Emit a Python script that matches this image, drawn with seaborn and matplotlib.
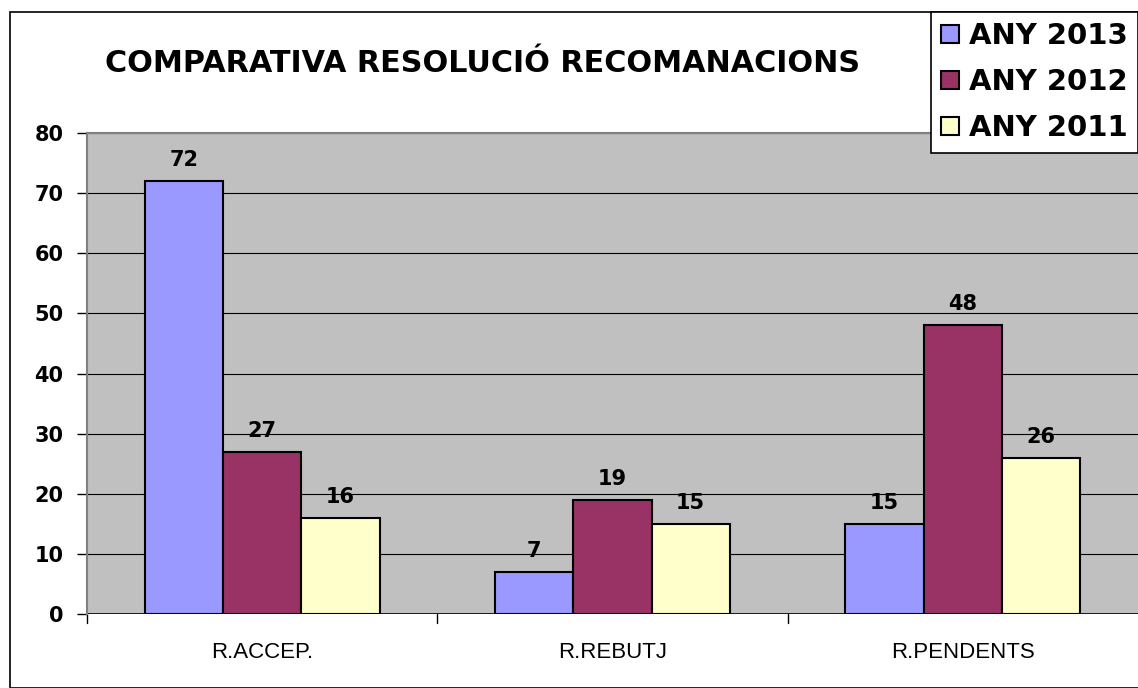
import matplotlib
matplotlib.use("Agg")
import matplotlib.pyplot as plt
import seaborn as sns
import pandas as pd
from matplotlib.patches import Rectangle

categories = ["R.ACCEP.", "R.REBUTJ", "R.PENDENTS"]
series = ["ANY 2013", "ANY 2012", "ANY 2011"]
v2013 = [72, 7, 15]
v2012 = [27, 19, 48]
v2011 = [16, 15, 26]
colors = ["#9999FF", "#993366", "#FFFFCC"]

rows = []
for s, vals in zip(series, [v2013, v2012, v2011]):
    for c, v in zip(categories, vals):
        rows.append({"cat": c, "serie": s, "val": v})
df = pd.DataFrame(rows)

sns.set_style("white")
plt.rcParams['font.family'] = ['Liberation Sans', 'DejaVu Sans']
plt.rcParams['text.color'] = 'black'
plt.rcParams['xtick.color'] = 'black'
plt.rcParams['ytick.color'] = 'black'
plt.rcParams['axes.labelcolor'] = 'black'
BOLD = ['DejaVu Sans']

fig = plt.figure(figsize=(11.38, 6.88), dpi=100)
ax = fig.add_axes([87/1138, 1-614/688, 1-87/1138, (614-133)/688])
ax.set_facecolor("#C0C0C0")

sns.barplot(data=df, x="cat", y="val", hue="serie", order=categories, hue_order=series,
            palette=colors, edgecolor="black", linewidth=1.5, width=0.67, ax=ax,
            legend=False, saturation=1)

ax.set_ylim(0, 80)
ax.set_xlim(-0.5, 2.5)
ax.set_yticks(range(0, 81, 10))
ax.yaxis.grid(True, color="black", linewidth=0.8)
ax.set_axisbelow(True)
ax.set_xlabel("")
ax.set_ylabel("")
for lab in ax.get_yticklabels():
    lab.set_fontweight("bold")
    lab.set_family(BOLD)
ax.tick_params(axis="y", labelsize=15, length=7, width=1, colors="black", left=True, pad=10)
ax.tick_params(axis="x", labelsize=16, length=0, pad=20, colors="black")
for x in [0.5, 1.5]:
    ax.plot([x, x], [0, -1.5], color="black", lw=1, clip_on=False)
ax.plot([-0.5, -0.5], [0, -1.5], color="black", lw=1, clip_on=False)

for sp in ["right", "bottom"]:
    ax.spines[sp].set_visible(False)
ax.spines["left"].set_color("#808080")
ax.spines["left"].set_linewidth(1.5)
ax.spines["top"].set_color("#808080")
ax.spines["top"].set_linewidth(1.5)
ax.axhline(0, color="black", lw=1.2)

for cont in ax.containers:
    ax.bar_label(cont, fmt="%d", padding=8, fontsize=15, fontweight="bold", family=BOLD,
                 color="black")

fig.text(483/1138, 1-63/688, "COMPARATIVA RESOLUCIÓ RECOMANACIONS", ha="center", va="center",
         fontsize=21.8, fontweight="bold", family=BOLD, color="black")

fig.patches.append(Rectangle((10/1138, 0), 1.0, 1-12/688, transform=fig.transFigure,
                             fill=False, edgecolor="black", linewidth=1.2))

handles = [Rectangle((0, 0), 1, 1, facecolor=c, edgecolor="black", linewidth=1.5) for c in colors]
leg = fig.legend(handles, series, loc="upper right", bbox_to_anchor=(1.0, 1-12/688),
                 prop={"size": 21, "weight": "bold", "family": BOLD}, frameon=True, fancybox=False,
                 handlelength=0.6, handleheight=0.6, handletextpad=0.35, labelspacing=0.62,
                 borderpad=0.35, borderaxespad=0, framealpha=1, facecolor="white")
for t in leg.get_texts():
    t.set_color("black")
leg.get_frame().set_edgecolor("black")
leg.get_frame().set_linewidth(1.2)

fig.savefig("out.png", dpi=100)
